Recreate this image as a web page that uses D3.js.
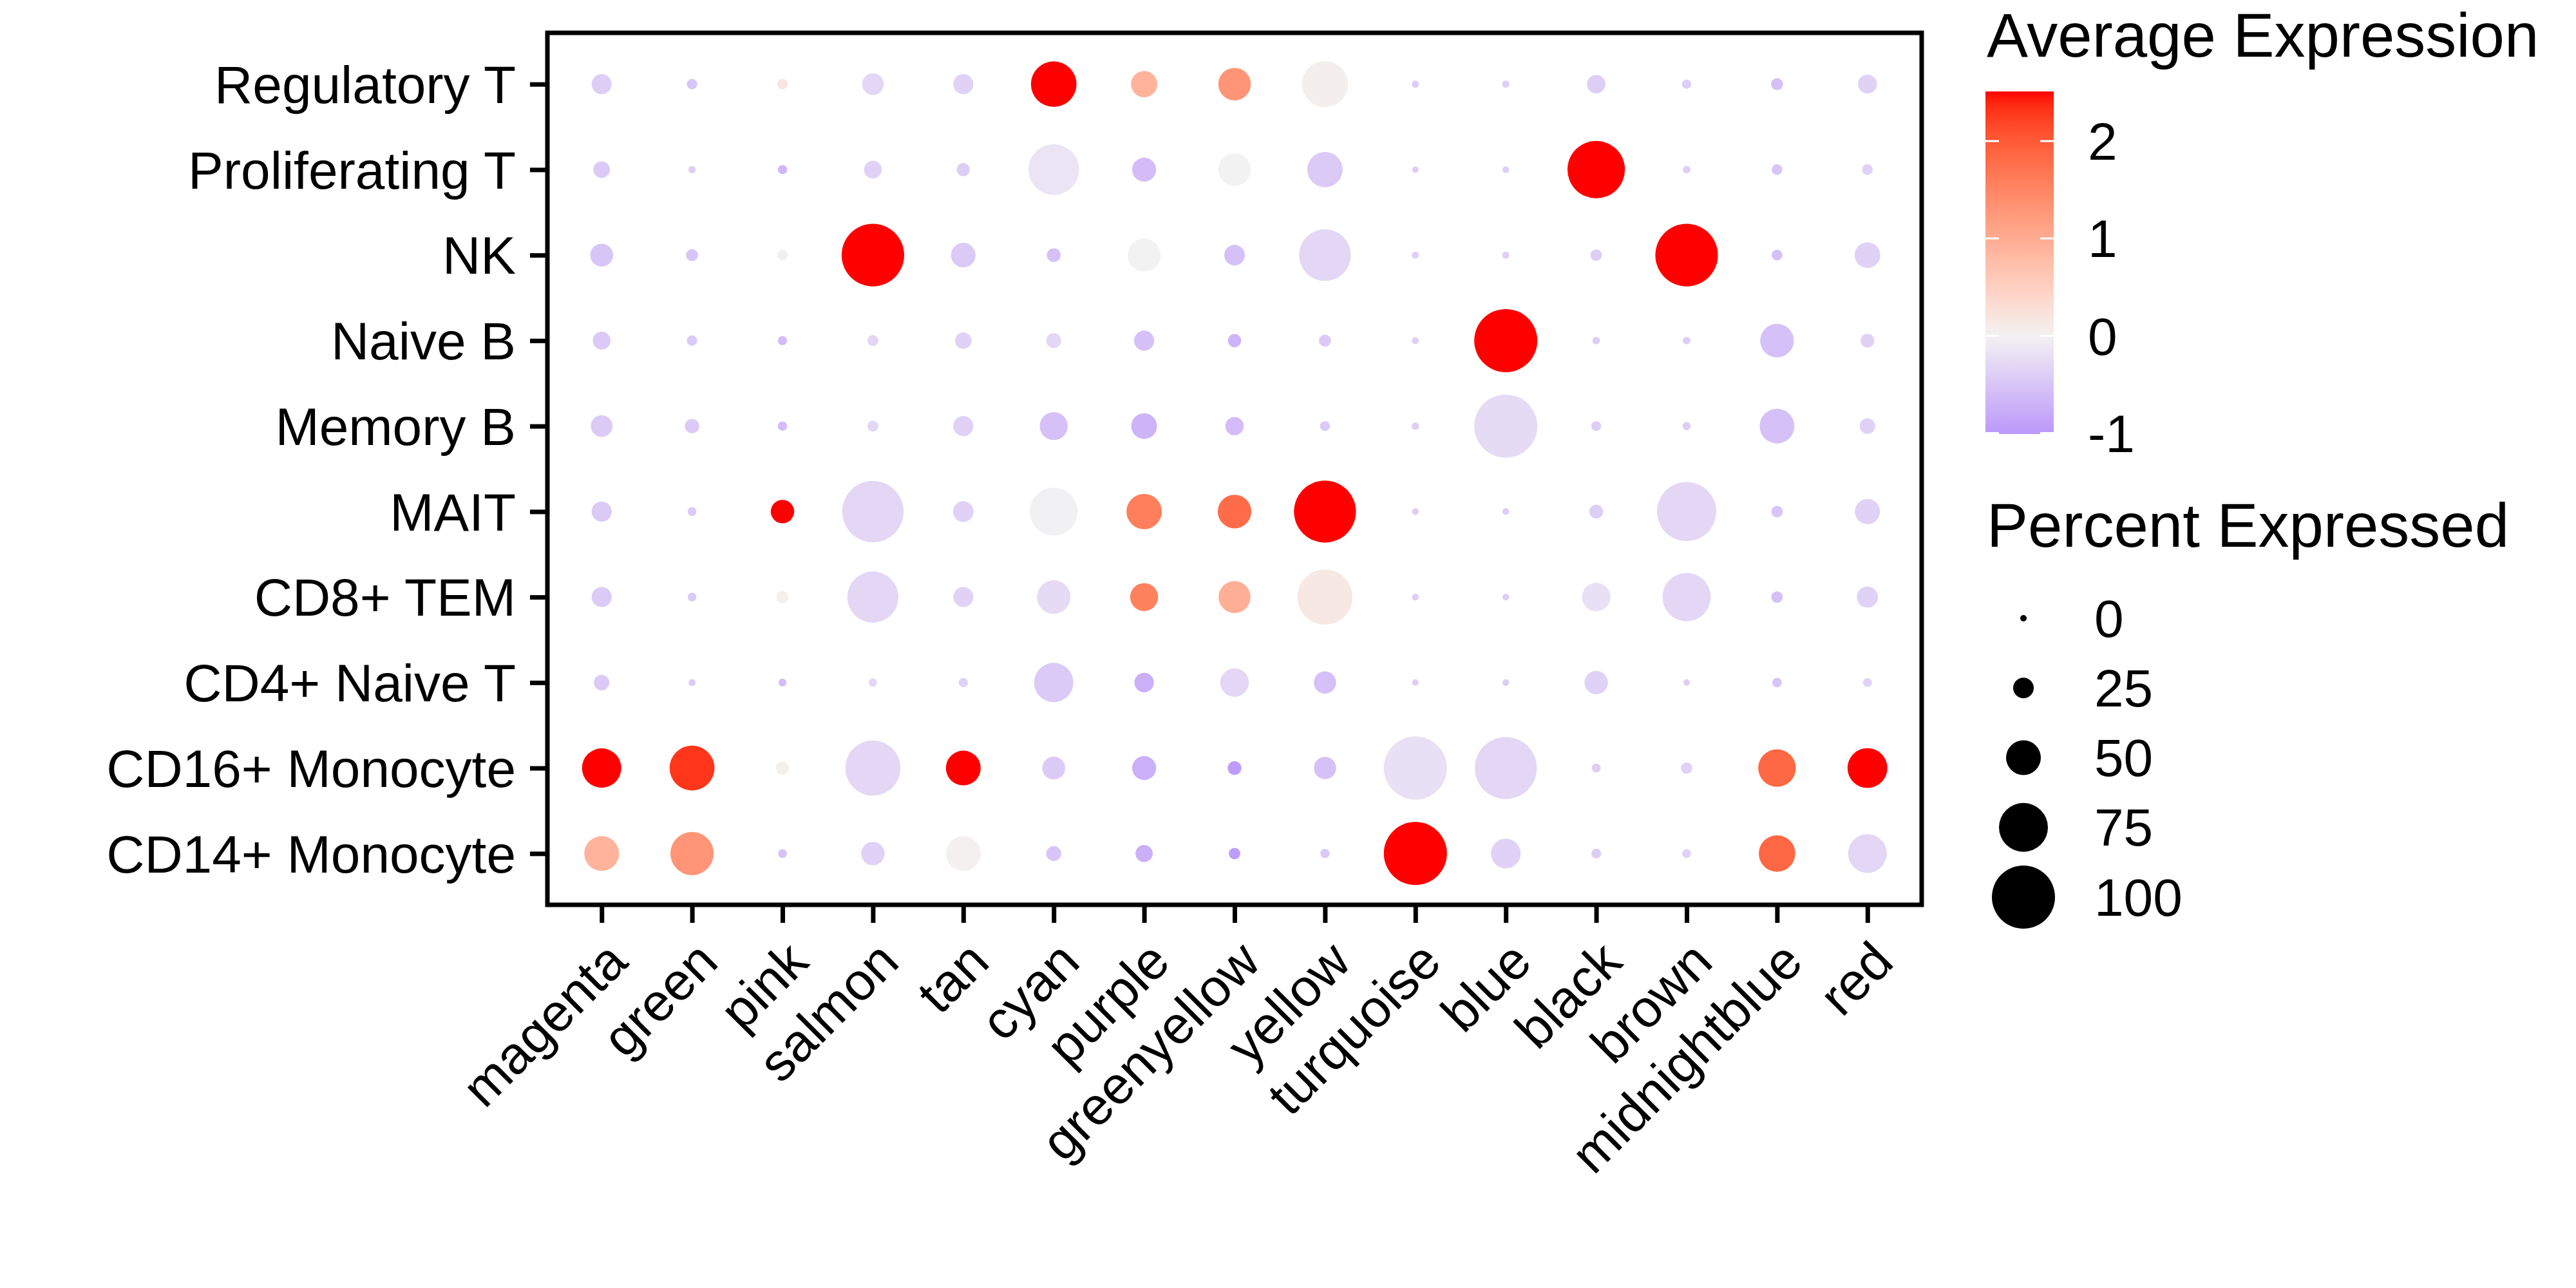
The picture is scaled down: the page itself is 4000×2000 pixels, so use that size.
<!DOCTYPE html>
<html>
<head>
<meta charset="utf-8">
<script src="https://cdn.jsdelivr.net/npm/d3@7"></script>
<style>
  body { margin: 0; background: #fff; }
  text { font-family: "Liberation Sans", Arial, sans-serif; fill: #000; }
</style>
</head>
<body>
<svg id="dotplot" width="4000" height="2000"></svg>
<script>
// cell types, top to bottom
const cellTypes = ["Regulatory T", "Proliferating T", "NK", "Naive B", "Memory B",
    "MAIT", "CD8+ TEM", "CD4+ Naive T", "CD16+ Monocyte", "CD14+ Monocyte"];
// modules, left to right
const modules = ["magenta", "green", "pink", "salmon", "tan", "cyan", "purple",
    "greenyellow", "yellow", "turquoise", "blue", "black", "brown", "midnightblue", "red"];

// percent expressed, one row per cell type
const pctExp = [
    [24, 7, 7, 27, 24, 69, 35, 46, 70, 1.5, 1.5, 21, 5, 10, 22],
    [18, 1.5, 5, 20, 12, 78, 31, 46, 51, 0, 0.5, 90, 2, 7.5, 7.5],
    [29, 10, 7, 99, 32, 13, 47, 25, 80, 1, 1, 9, 99, 7.5, 34],
    [20, 7, 5, 8, 18, 15, 24, 12, 10, 1, 100, 2, 2, 48, 13],
    [27, 14, 5, 8, 24, 38, 34, 21, 6, 1.5, 100, 6, 3, 50, 16],
    [24, 4, 30, 97, 25, 73, 51, 48, 98, 0.6, 0.6, 13, 93, 9, 33],
    [24, 4, 10, 79, 24, 48, 38, 45, 86, 0.6, 0.6, 39, 74, 9, 26],
    [16, 1, 2.5, 3.5, 5, 58, 23, 39, 28, 0, 0.6, 30, 0, 5.5, 4.5],
    [58, 68, 12, 86, 50, 29, 31, 13, 28, 100, 98, 4.5, 9, 55, 59],
    [50, 65, 4, 30, 50, 15, 19, 9, 5, 100, 41, 6, 4.5, 53, 57]
];

// average expression (scaled), same layout
const avgExp = [
    [-0.4, -0.5, 0.2, -0.3, -0.35, 2.5, 0.9, 1.3, 0.05, -0.4, -0.4, -0.4, -0.4, -0.55, -0.35],
    [-0.45, -0.4, -0.65, -0.35, -0.4, -0.15, -0.6, 0.0, -0.45, -0.4, -0.4, 2.5, -0.4, -0.5, -0.35],
    [-0.5, -0.5, -0.05, 2.5, -0.45, -0.55, 0.0, -0.55, -0.3, -0.4, -0.4, -0.4, 2.5, -0.55, -0.35],
    [-0.45, -0.45, -0.6, -0.3, -0.35, -0.3, -0.55, -0.7, -0.45, -0.4, 2.5, -0.4, -0.4, -0.55, -0.35],
    [-0.45, -0.45, -0.6, -0.3, -0.35, -0.55, -0.7, -0.6, -0.45, -0.4, -0.25, -0.4, -0.4, -0.55, -0.35],
    [-0.45, -0.45, 2.5, -0.3, -0.35, -0.02, 1.6, 1.8, 2.5, -0.4, -0.4, -0.4, -0.3, -0.5, -0.35],
    [-0.45, -0.45, 0.05, -0.3, -0.35, -0.25, 1.55, 0.95, 0.15, -0.4, -0.4, -0.2, -0.3, -0.55, -0.35],
    [-0.45, -0.45, -0.6, -0.3, -0.35, -0.45, -0.75, -0.3, -0.55, -0.4, -0.4, -0.35, -0.4, -0.5, -0.35],
    [2.5, 2.3, 0.05, -0.3, 2.5, -0.45, -0.75, -0.95, -0.55, -0.2, -0.3, -0.4, -0.35, 1.85, 2.5],
    [0.9, 1.3, -0.55, -0.35, 0.03, -0.5, -0.75, -0.95, -0.45, 2.5, -0.35, -0.4, -0.35, 1.85, -0.3]
];

const colorTicks = [-1, 0, 1, 2];
const colorLimits = [-1.01, 2.51];
const sizeBreaks = [0, 25, 50, 75, 100];

const svg = d3.select("svg#dotplot");
svg.append("rect").attr("width", 4000).attr("height", 2000).attr("fill", "#fff");

const panel = { left: 850, right: 2984, top: 51, bottom: 1405 };

const xScale = d3.scalePoint().domain(modules).range([panel.left, panel.right]).padding(0.6);
const yScale = d3.scalePoint().domain(cellTypes).range([panel.top, panel.bottom]).padding(0.6);
const rScale = d3.scaleLinear().domain([0, 100]).range([5, 49]);
const colorScale = d3.scaleLinear()
    .domain([-1, 0, 2.5])
    .range(["#BB99FA", "#F2F2F2", "#FF0000"])
    .interpolate(d3.interpolateLab)
    .clamp(true);

// flatten into cells
const cells = [];
cellTypes.forEach((ct, i) => {
    modules.forEach((m, j) => {
        cells.push({ cell: ct, module: m, pct: pctExp[i][j], avg: avgExp[i][j] });
    });
});

// dots
svg.append("g").attr("id", "dots")
    .selectAll("circle")
    .data(cells)
    .join("circle")
    .attr("cx", d => xScale(d.module))
    .attr("cy", d => yScale(d.cell))
    .attr("r", d => rScale(d.pct))
    .attr("fill", d => colorScale(d.avg));

// panel border
svg.append("rect")
    .attr("x", panel.left)
    .attr("y", panel.top)
    .attr("width", panel.right - panel.left)
    .attr("height", panel.bottom - panel.top)
    .attr("fill", "none")
    .attr("stroke", "#000")
    .attr("stroke-width", 7);

// y axis
const yAxisG = svg.append("g")
    .attr("transform", `translate(${panel.left},0)`)
    .call(d3.axisLeft(yScale).tickSize(27).tickPadding(22));
yAxisG.select(".domain").remove();
yAxisG.selectAll(".tick line").attr("stroke", "#000").attr("stroke-width", 7);
yAxisG.selectAll(".tick text")
    .attr("font-size", 82)
    .attr("font-family", "Liberation Sans, Arial, sans-serif")
    .attr("fill", "#000")
    .attr("dy", "0.35em");

// x axis
const xAxisG = svg.append("g")
    .attr("transform", `translate(0,${panel.bottom})`)
    .call(d3.axisBottom(xScale).tickSize(28));
xAxisG.select(".domain").remove();
xAxisG.selectAll(".tick line").attr("stroke", "#000").attr("stroke-width", 7);
xAxisG.selectAll(".tick text")
    .attr("font-size", 82)
    .attr("font-family", "Liberation Sans, Arial, sans-serif")
    .attr("fill", "#000")
    .attr("x", 0)
    .attr("y", 0)
    .attr("dy", "0.75em")
    .attr("text-anchor", "end")
    .attr("transform", "translate(0,49) rotate(-45)");

// colour legend
const legendX = 3085;
svg.append("text")
    .attr("x", legendX)
    .attr("y", 88)
    .attr("font-size", 96)
    .text("Average Expression");

const barX = 3083, barW = 106, barTop = 142, barBottom = 674;
const barScale = d3.scaleLinear().domain(colorLimits).range([barBottom, barTop]);

const defs = svg.append("defs");
const grad = defs.append("linearGradient")
    .attr("id", "avgGrad")
    .attr("x1", 0).attr("y1", 1).attr("x2", 0).attr("y2", 0);
d3.range(0, 1.0001, 0.02).forEach(t => {
    const v = colorLimits[0] + t * (colorLimits[1] - colorLimits[0]);
    grad.append("stop").attr("offset", t).attr("stop-color", colorScale(v));
});
svg.append("rect")
    .attr("x", barX)
    .attr("y", barTop)
    .attr("width", barW)
    .attr("height", barBottom - barTop)
    .attr("fill", "url(#avgGrad)");

const barTicks = svg.append("g");
colorTicks.forEach(v => {
    barTicks.append("line")
        .attr("x1", barX).attr("x2", barX + 21)
        .attr("y1", barScale(v)).attr("y2", barScale(v))
        .attr("stroke", "#fff").attr("stroke-width", 3);
    barTicks.append("line")
        .attr("x1", barX + barW - 21).attr("x2", barX + barW)
        .attr("y1", barScale(v)).attr("y2", barScale(v))
        .attr("stroke", "#fff").attr("stroke-width", 3);
});
const barAxisG = svg.append("g")
    .attr("transform", `translate(${barX + barW},0)`)
    .call(d3.axisRight(barScale).tickValues(colorTicks).tickSize(0).tickPadding(53)
        .tickFormat(d => String(d)));
barAxisG.select(".domain").remove();
barAxisG.selectAll(".tick text")
    .attr("font-size", 82)
    .attr("font-family", "Liberation Sans, Arial, sans-serif")
    .attr("fill", "#000")
    .attr("dy", "0.35em");

// size legend
svg.append("text")
    .attr("x", legendX)
    .attr("y", 849)
    .attr("font-size", 96)
    .text("Percent Expressed");

const sizeKeyY = d3.scalePoint().domain(sizeBreaks).range([960, 1393]);
const sizeKeys = svg.append("g").selectAll("g")
    .data(sizeBreaks)
    .join("g")
    .attr("transform", d => `translate(0,${sizeKeyY(d)})`);
sizeKeys.append("circle")
    .attr("cx", 3142)
    .attr("cy", 0)
    .attr("r", d => rScale(d))
    .attr("fill", "#000");
sizeKeys.append("text")
    .attr("x", 3252)
    .attr("y", 0)
    .attr("dy", "0.35em")
    .attr("font-size", 82)
    .text(d => d);
</script>
</body>
</html>
